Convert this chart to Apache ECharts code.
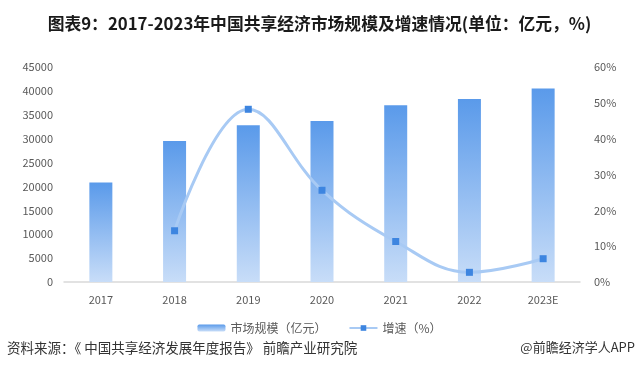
<!DOCTYPE html>
<html>
<head>
<meta charset="utf-8">
<script src="https://cdn.jsdelivr.net/npm/echarts@6/dist/echarts.min.js"></script>
<style>
html,body{margin:0;padding:0;background:#fff;}
#c{width:639px;height:385px;}
</style>
</head>
<body>
<div id="c"></div>
<script>
const categories = ['2017','2018','2019','2020','2021','2022','2023E'];
const marketSize = [20800, 29500, 32800, 33700, 37000, 38300, 40500];
const growthRate = [null, 14.3, 48.2, 25.6, 11.3, 2.7, 6.5];
const leftTicks = {min: 0, max: 45000, interval: 5000};
const rightTicks = {min: 0, max: 60, interval: 10};

const font = '"Noto Sans CJK SC", "Noto Sans", sans-serif';
const chart = echarts.init(document.getElementById('c'));
chart.setOption({
  backgroundColor: '#fff',
  animation: false,
  title: {
    text: '图表9：2017-2023年中国共享经济市场规模及增速情况(单位：亿元，%)',
    left: 'center', top: 10,
    textStyle: {fontFamily: font, fontSize: 16.8, fontWeight: 'bold', color: '#1a1a1a'}
  },
  graphic: [
    {type: 'text', left: 7, top: 341, style: {text: '资料来源：《 中国共享经济发展年度报告》 前瞻产业研究院', font: '13.5px ' + font, fill: '#333'}},
    {type: 'text', right: 4, top: 341, style: {text: '@前瞻经济学人APP', font: '13px ' + font, fill: '#333'}}
  ],
  legend: {
    left: 'center', top: 317,
    itemWidth: 28, itemHeight: 7, itemGap: 22,
    textStyle: {fontFamily: font, fontSize: 12, color: '#595959'},
    data: ['市场规模（亿元）', '增速（%）']
  },
  grid: {left: 64, right: 59, top: 67, bottom: 103},
  xAxis: {
    type: 'category', data: categories,
    axisLine: {lineStyle: {color: '#d9d9d9', width: 1.5}},
    axisTick: {show: false},
    axisLabel: {color: '#595959', fontSize: 11, margin: 12, fontFamily: font}
  },
  yAxis: [
    {type: 'value', min: leftTicks.min, max: leftTicks.max, interval: leftTicks.interval,
     axisLine: {show: false}, axisTick: {show: false}, splitLine: {show: false},
     axisLabel: {color: '#595959', fontSize: 11, margin: 11, fontFamily: font, formatter: v => String(v)}},
    {type: 'value', min: rightTicks.min, max: rightTicks.max, interval: rightTicks.interval,
     axisLine: {show: false}, axisTick: {show: false}, splitLine: {show: false},
     axisLabel: {color: '#595959', fontSize: 11, margin: 14, formatter: '{value}%', fontFamily: font}}
  ],
  series: [
    {
      name: '市场规模（亿元）', type: 'bar', data: marketSize, barWidth: 23,
      itemStyle: {color: new echarts.graphic.LinearGradient(0, 0, 0, 1, [
        {offset: 0, color: '#5a9aea'}, {offset: 1, color: '#c8ddf8'}
      ])}
    },
    {
      name: '增速（%）', type: 'line', yAxisIndex: 1, data: growthRate, smooth: 0.4,
      symbol: 'rect', symbolSize: 7,
      lineStyle: {color: '#a8caf4', width: 3},
      itemStyle: {color: '#3d85e0'}
    }
  ]
});
</script>
</body>
</html>
